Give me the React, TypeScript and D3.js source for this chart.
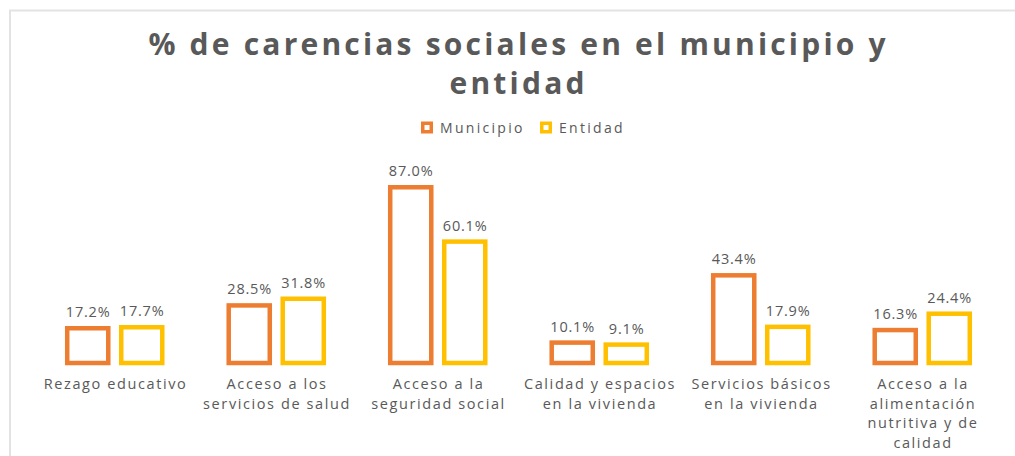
import React from "react";
import * as d3 from "d3";

const categories: string[][] = [
  ["Rezago educativo"],
  ["Acceso a los", "servicios de salud"],
  ["Acceso a la", "seguridad social"],
  ["Calidad y espacios", "en la vivienda"],
  ["Servicios básicos", "en la vivienda"],
  ["Acceso a la", "alimentación", "nutritiva y de", "calidad"],
];
const seriesNames = ["Municipio", "Entidad"];
const municipio = [17.2, 28.5, 87.0, 10.1, 43.4, 16.3];
const entidad = [17.7, 31.8, 60.1, 9.1, 17.9, 24.4];
const colors = ["#ED7D31", "#FFC000"];
const title = ["% de carencias sociales en el municipio y", "entidad"];

const W = 1015;
const H = 456;
const FONT = "'Open Sans', 'DejaVu Sans', sans-serif";
const TEXT = "#595959";

export default function App() {
  const idx = categories.map((_, i) => String(i));
  const x0 = d3.scaleBand<string>().domain(idx).range([34, 1003]).paddingInner(0).paddingOuter(0);
  const x1 = d3
    .scaleBand<string>()
    .domain(seriesNames)
    .range([0, x0.bandwidth()])
    .paddingInner(0.24)
    .paddingOuter(0.615);
  const y = d3.scaleLinear().domain([0, 100]).range([363, 161]);
  const series = [municipio, entidad];

  const titleSp = 3.2;
  const valSp = 0.8;
  const catSp = 1.6;
  const legSp = 2.3;

  return (
    <svg
      width={W}
      height={H}
      style={{ position: "absolute", left: 0, top: 0, background: "#fff" }}
      fontFamily={FONT}
    >
      <rect x={0} y={0} width={W} height={H} fill="#fff" />
      <rect x={10} y={10.5} width={W + 20} height={H + 20} fill="none" stroke="#e3e3e3" strokeWidth={2} />
      {title.map((t, i) => (
        <text
          key={i}
          x={517 + titleSp / 2}
          y={55 + i * 39}
          textAnchor="middle"
          fontSize={30}
          fontWeight={700}
          letterSpacing={titleSp}
          fill={TEXT}
        >
          {t}
        </text>
      ))}
      {/* legend */}
      {seriesNames.map((s, i) => {
        const lx = [421, 540][i];
        return (
          <g key={s}>
            <rect x={lx + 1.75} y={123.25} width={8.5} height={8.5} fill="#fff" stroke={colors[i]} strokeWidth={3.5} />
            <text x={lx + 19} y={133} fontSize={14} fill={TEXT} letterSpacing={legSp}>
              {s}
            </text>
          </g>
        );
      })}
      {/* bars */}
      {categories.map((_, ci) => (
        <g key={ci} transform={`translate(${x0(String(ci))},0)`}>
          {seriesNames.map((s, si) => {
            const v = series[si][ci];
            const bx = x1(s)!;
            return (
              <g key={s}>
                <rect
                  x={bx}
                  y={y(v)}
                  width={x1.bandwidth()}
                  height={y(0) - y(v)}
                  fill="#fff"
                  stroke={colors[si]}
                  strokeWidth={4.5}
                />
                <text
                  x={bx + x1.bandwidth() / 2 + valSp / 2}
                  y={y(v) - 11}
                  textAnchor="middle"
                  fontSize={14.5}
                  letterSpacing={valSp}
                  fill={TEXT}
                >
                  {v.toFixed(1)}%
                </text>
              </g>
            );
          })}
        </g>
      ))}
      {/* category labels */}
      {categories.map((lines, ci) => {
        const cx = x0(String(ci))! + x0.bandwidth() / 2 + catSp / 2;
        return (
          <text key={ci} x={cx} textAnchor="middle" fontSize={14.5} letterSpacing={catSp} fill={TEXT}>
            {lines.map((l, li) => (
              <tspan key={li} x={cx} y={389 + li * 19.5}>
                {l}
              </tspan>
            ))}
          </text>
        );
      })}
    </svg>
  );
}
